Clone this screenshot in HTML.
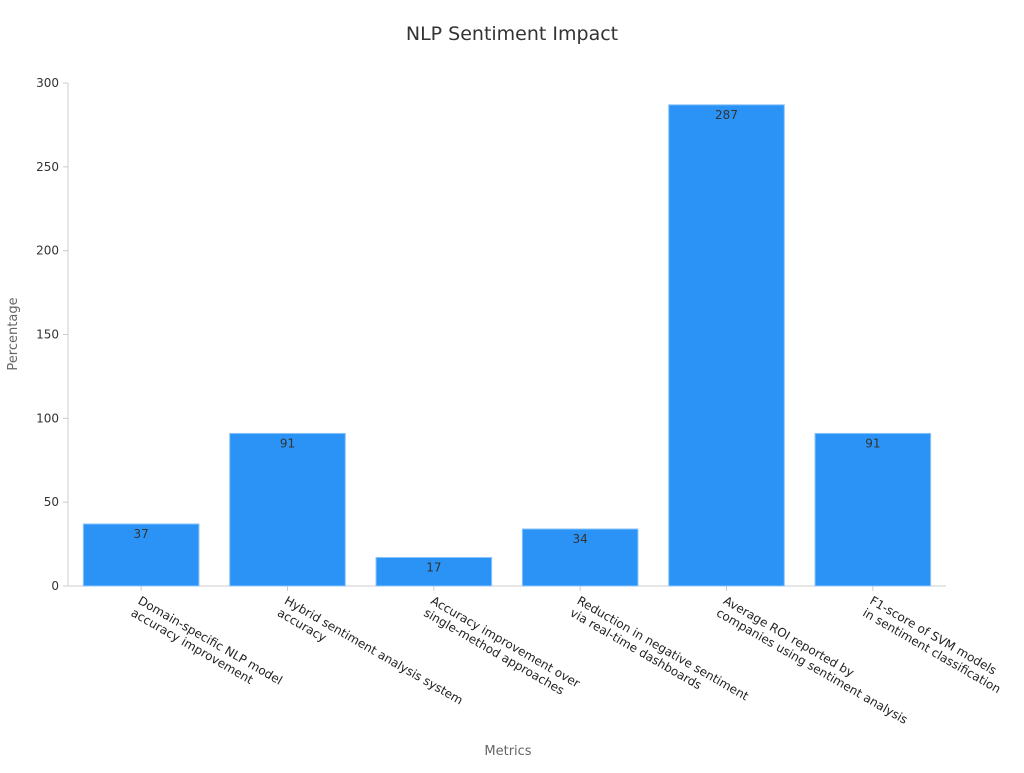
<!DOCTYPE html>
<html><head><meta charset="utf-8"><style>
body{margin:0;background:#fff;font-family:"Liberation Sans","DejaVu Sans",sans-serif}
svg text{font-family:"DejaVu Sans","Liberation Sans",sans-serif}
</style></head><body>
<svg id="chart" width="1024" height="768" xmlns="http://www.w3.org/2000/svg">
<text x="512" y="40" text-anchor="middle" font-size="19" fill="#333">NLP Sentiment Impact</text>
<text transform="translate(17,334) rotate(-90)" text-anchor="middle" font-size="13" fill="#666">Percentage</text>
<text x="508" y="755" text-anchor="middle" font-size="13" fill="#666">Metrics</text>
<g id="axes"></g><g id="bars"></g><g id="xlabels"></g>
</svg>
<script>
const categories=[["Domain-specific NLP model","accuracy improvement"],["Hybrid sentiment analysis system","accuracy"],["Accuracy improvement over","single-method approaches"],["Reduction in negative sentiment","via real-time dashboards"],["Average ROI reported by","companies using sentiment analysis"],["F1-score of SVM models","in sentiment classification"]];
const values=[37,91,17,34,287,91];
const yTicks=[0,50,100,150,200,250,300];
const NS="http://www.w3.org/2000/svg";
const X0=68,X1=946,Y0=586,Y1=83,YMAX=300;
const y=v=>Y0-(v/YMAX)*(Y0-Y1);
const band=(X1-X0)/categories.length;
const x=i=>X0+band*i;
function mk(t,a,p){const e=document.createElementNS(NS,t);for(const k in a)e.setAttribute(k,a[k]);p.appendChild(e);return e;}
const axes=document.getElementById('axes'),bars=document.getElementById('bars'),xl=document.getElementById('xlabels');
const yl=mk('line',{x1:X0,x2:X0,y1:Y1,y2:Y0,stroke:'#ccc'},axes);


yTicks.forEach(t=>{
 const tk=mk('line',{x1:X0-5,x2:X0,y1:y(t),y2:y(t),stroke:'#ccc'},axes);
 
 
 const tx=mk('text',{x:X0-9,y:y(t)+4,'text-anchor':'end','font-size':12,fill:'#333'},axes);
 tx.textContent=t;
 
 
});
const xa=mk('line',{x1:X0,x2:X1,y1:Y0,y2:Y0,stroke:'#ccc'},axes);


const bw=band*0.79;
values.forEach((v,i)=>{
 const cx=x(i)+band/2;
 const r=mk('rect',{x:cx-bw/2,y:y(v),width:bw,height:Y0-y(v),fill:'#2b93f6',stroke:'#8cc4fa','stroke-width':1},bars);
 
 
 const lt=mk('text',{x:cx,y:y(v)+14,'text-anchor':'middle','font-size':12,fill:'#333'},bars);
 lt.textContent=v;
 
 
 const tk=mk('line',{x1:cx,x2:cx,y1:Y0,y2:Y0+5,stroke:'#ccc'},axes);
 
 
 const t=mk('text',{transform:`translate(${cx-4},${Y0+17}) rotate(30)`,'font-size':12,fill:'#222'},xl);
 
 
 categories[i].forEach((ln,j)=>{const s=mk('tspan',{x:0,dy:j?14:0},t);s.textContent=ln;});
});
</script>
</body></html>
